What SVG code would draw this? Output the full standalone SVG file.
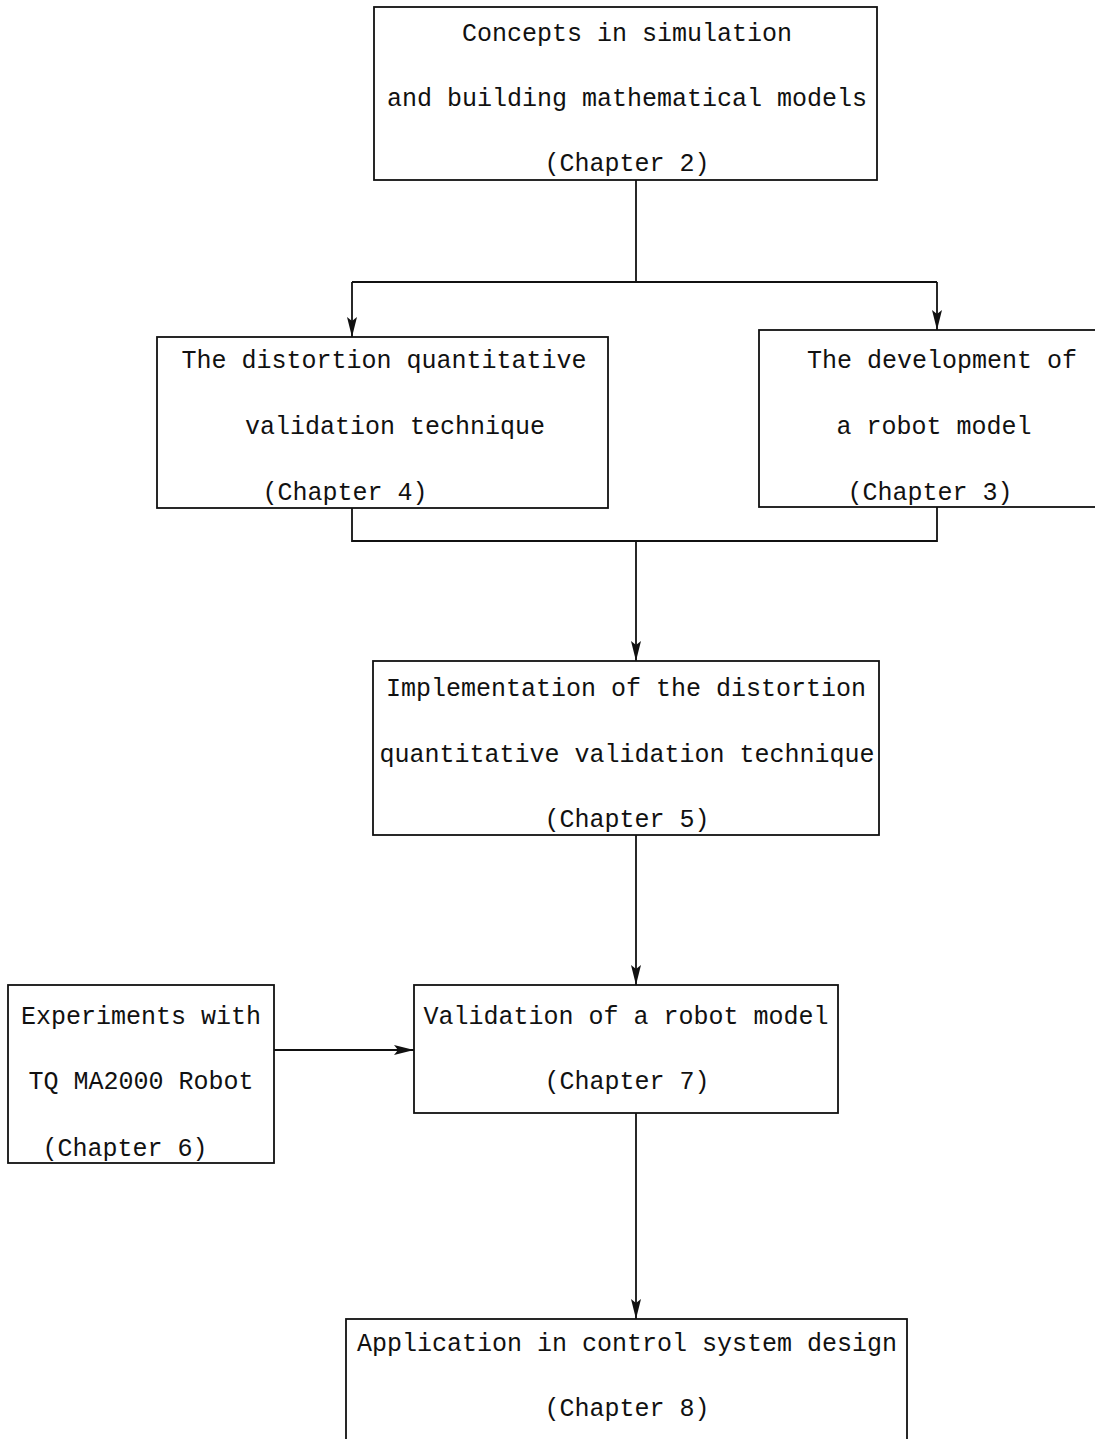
<svg xmlns="http://www.w3.org/2000/svg" width="1095" height="1439" viewBox="0 0 1095 1439">
<style>
.box{fill:#fff;stroke:#111;stroke-width:1.8}
.t{font-family:"Liberation Mono","DejaVu Sans Mono",monospace;font-size:25px;fill:#111;text-anchor:middle}
.c{fill:none;stroke:#111;stroke-width:1.8}
</style>
<defs>
<marker id="ah" viewBox="0 0 20 10" refX="20" refY="5" markerWidth="20" markerHeight="10" markerUnits="userSpaceOnUse" orient="auto">
<path d="M0,0 L20,5 L0,10 L4,5 Z" fill="#111"/>
</marker>
</defs>
<rect width="1095" height="1439" fill="#fff"/>
<g id="connectors">
<path class="c" d="M636,180 V282"/>
<path class="c" d="M352,282 H937"/>
<path class="c" d="M352,282 V337" marker-end="url(#ah)"/>
<path class="c" d="M937,282 V330" marker-end="url(#ah)"/>
<path class="c" d="M352,508 V541 H937 V507"/>
<path class="c" d="M636,541 V661" marker-end="url(#ah)"/>
<path class="c" d="M636,835 V985" marker-end="url(#ah)"/>
<path class="c" d="M274,1050 H414" marker-end="url(#ah)"/>
<path class="c" d="M636,1113 V1319" marker-end="url(#ah)"/>
</g>
<g id="n2">
<rect class="box" x="374" y="7" width="503" height="173"/>
<text class="t" x="627" y="41">Concepts in simulation</text>
<text class="t" x="627" y="106">and building mathematical models</text>
<text class="t" x="627" y="171">(Chapter 2)</text>
</g>
<g id="n4">
<rect class="box" x="157" y="337" width="451" height="171"/>
<text class="t" x="384" y="368">The distortion quantitative</text>
<text class="t" x="395" y="434">validation technique</text>
<text class="t" x="345" y="500">(Chapter 4)</text>
</g>
<g id="n3">
<rect class="box" x="759" y="330" width="345" height="177"/>
<text class="t" x="942" y="368">The development of</text>
<text class="t" x="934" y="434">a robot model</text>
<text class="t" x="930" y="500">(Chapter 3)</text>
</g>
<g id="n5">
<rect class="box" x="373" y="661" width="506" height="174"/>
<text class="t" x="626" y="696">Implementation of the distortion</text>
<text class="t" x="627" y="762">quantitative validation technique</text>
<text class="t" x="627" y="827">(Chapter 5)</text>
</g>
<g id="n7">
<rect class="box" x="414" y="985" width="424" height="128"/>
<text class="t" x="626" y="1024">Validation of a robot model</text>
<text class="t" x="627" y="1089">(Chapter 7)</text>
</g>
<g id="n6">
<rect class="box" x="8" y="985" width="266" height="178"/>
<text class="t" x="141" y="1024">Experiments with</text>
<text class="t" x="141" y="1089">TQ MA2000 Robot</text>
<text class="t" x="125" y="1156">(Chapter 6)</text>
</g>
<g id="n8">
<rect class="box" x="346" y="1319" width="561" height="130"/>
<text class="t" x="627" y="1351">Application in control system design</text>
<text class="t" x="627" y="1416">(Chapter 8)</text>
</g>
</svg>
